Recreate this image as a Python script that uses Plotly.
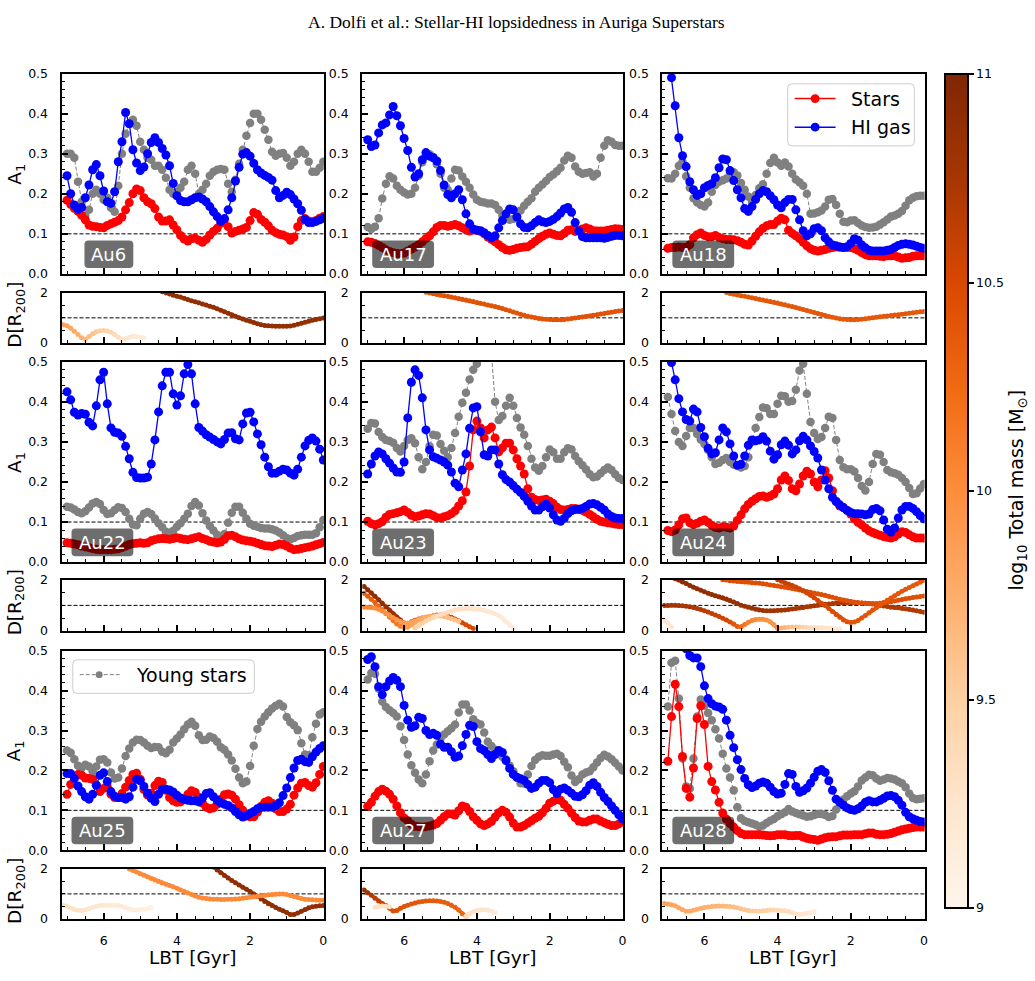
import plotly.graph_objects as go

W, H = 1035, 981

# ---------------- data ----------------
LBT = [7.0, 6.9, 6.8, 6.7, 6.6, 6.5, 6.4, 6.3, 6.2, 6.1, 6.0, 5.9, 5.8, 5.7, 5.6, 5.5, 5.4, 5.3, 5.2, 5.1,
       5.0, 4.9, 4.8, 4.7, 4.6, 4.5, 4.4, 4.3, 4.2, 4.1, 4.0, 3.9, 3.8, 3.7, 3.6, 3.5, 3.4, 3.3, 3.2, 3.1,
       3.0, 2.9, 2.8, 2.7, 2.6, 2.5, 2.4, 2.3, 2.2, 2.1, 2.0, 1.9, 1.8, 1.7, 1.6, 1.5, 1.4, 1.3, 1.2, 1.1,
       1.0, 0.9, 0.8, 0.7, 0.6, 0.5, 0.4, 0.3, 0.2, 0.1, 0.0]

au6_stars = [0.184, 0.174, 0.164, 0.156, 0.146, 0.135, 0.122, 0.119, 0.118, 0.116,
             0.115, 0.121, 0.125, 0.129, 0.133, 0.142, 0.16, 0.178, 0.2, 0.212,
             0.208, 0.19, 0.18, 0.175, 0.163, 0.142, 0.132, 0.132, 0.135, 0.122,
             0.11, 0.096, 0.087, 0.082, 0.088, 0.089, 0.084, 0.079, 0.086, 0.097,
             0.106, 0.114, 0.126, 0.135, 0.118, 0.102, 0.106, 0.109, 0.112, 0.116,
             0.133, 0.153, 0.149, 0.136, 0.129, 0.12, 0.109, 0.103, 0.099, 0.097,
             0.093, 0.084, 0.092, 0.118, 0.133, 0.138, 0.132, 0.13, 0.133, 0.139,
             0.143]
au6_hi = [0.245, 0.2, 0.172, 0.161, 0.166, 0.19, 0.222, 0.26, 0.273, 0.245,
          0.207, 0.18, 0.176, 0.205, 0.28, 0.33, 0.403, 0.375, 0.31, 0.277,
          0.258, 0.267, 0.3, 0.328, 0.34, 0.328, 0.313, 0.297, 0.27, 0.226,
          0.195, 0.183, 0.18, 0.18, 0.185, 0.19, 0.192, 0.187, 0.18, 0.168,
          0.155, 0.143, 0.131, 0.138, 0.16, 0.19, 0.232, 0.266, 0.299, 0.303,
          0.294, 0.276, 0.26, 0.252, 0.246, 0.241, 0.234, 0.208, 0.19, 0.196,
          0.204, 0.198, 0.187, 0.175, 0.159, 0.136, 0.128, 0.128, 0.131, 0.135,
          0.139]
au6_young = [0.3, 0.3, 0.29, 0.23, 0.18, 0.145, 0.16, 0.2, 0.21, 0.2,
             0.185, 0.19, 0.165, 0.155, 0.22, 0.3, 0.35, 0.375, 0.385, 0.37,
             0.33, 0.31, 0.29, 0.285, 0.27, 0.27, 0.26, 0.24, 0.21, 0.2,
             0.205, 0.215, 0.23, 0.26, 0.27, 0.25, 0.2, 0.21, 0.225, 0.245,
             0.255, 0.26, 0.262, 0.26, 0.225, 0.205, 0.235, 0.275, 0.31, 0.345,
             0.377, 0.4, 0.4, 0.385, 0.36, 0.335, 0.305, 0.295, 0.3, 0.302,
             0.29, 0.27, 0.28, 0.3, 0.31, 0.3, 0.28, 0.255, 0.255, 0.265,
             0.28]

au17_stars = [0.08, 0.079, 0.076, 0.071, 0.066, 0.06, 0.056, 0.053, 0.051, 0.05,
              0.052, 0.057, 0.062, 0.067, 0.073, 0.08, 0.088, 0.095, 0.105, 0.116,
              0.121, 0.121, 0.119, 0.121, 0.123, 0.12, 0.115, 0.11, 0.107, 0.11,
              0.109, 0.106, 0.1, 0.092, 0.086, 0.08, 0.073, 0.066, 0.06, 0.059,
              0.061, 0.064, 0.066, 0.067, 0.068, 0.074, 0.081, 0.088, 0.094, 0.099,
              0.102, 0.099, 0.096, 0.095, 0.101, 0.109, 0.11, 0.106, 0.109, 0.112,
              0.115, 0.112, 0.108, 0.107, 0.107, 0.107, 0.109, 0.111, 0.113, 0.112,
              0.111]
au17_hi = [0.335, 0.318, 0.322, 0.352, 0.372, 0.377, 0.397, 0.418, 0.395, 0.37,
           0.338, 0.308, 0.266, 0.242, 0.25, 0.285, 0.303, 0.294, 0.29, 0.282,
           0.258, 0.222, 0.198, 0.19, 0.2, 0.21, 0.185, 0.15, 0.125, 0.112,
           0.109, 0.108, 0.103, 0.096, 0.09, 0.095, 0.115, 0.133, 0.15, 0.162,
           0.16, 0.142, 0.125, 0.116, 0.115, 0.12, 0.128, 0.135, 0.13, 0.128,
           0.131, 0.136, 0.143, 0.152, 0.162, 0.166, 0.154, 0.128, 0.107, 0.093,
           0.09, 0.09, 0.09, 0.09, 0.09, 0.089, 0.091, 0.094, 0.096, 0.096,
           0.095]
au17_young = [0.117, 0.112, 0.118, 0.139, 0.188, 0.225, 0.244, 0.238, 0.22, 0.21,
              0.203, 0.198, 0.2, 0.215, 0.245, 0.279, 0.295, 0.299, 0.292, 0.274,
              0.25, 0.215, 0.21, 0.238, 0.26, 0.258, 0.243, 0.23, 0.215, 0.198,
              0.185, 0.18, 0.178, 0.176, 0.176, 0.172, 0.16, 0.146, 0.138, 0.135,
              0.137, 0.14, 0.158, 0.17, 0.18, 0.189, 0.205, 0.215, 0.223, 0.232,
              0.242, 0.248, 0.256, 0.265, 0.283, 0.295, 0.29, 0.268, 0.255, 0.25,
              0.252, 0.254, 0.243, 0.25, 0.29, 0.32, 0.334, 0.33, 0.322, 0.32,
              0.32]

au18_stars = [0.064, 0.066, 0.066, 0.067, 0.066, 0.066, 0.073, 0.09, 0.098, 0.102,
              0.096, 0.093, 0.093, 0.096, 0.091, 0.088, 0.086, 0.086, 0.085, 0.083,
              0.079, 0.074, 0.072, 0.082, 0.094, 0.105, 0.114, 0.12, 0.123, 0.123,
              0.132, 0.139, 0.135, 0.109, 0.101, 0.095, 0.088, 0.079, 0.07, 0.063,
              0.059, 0.057, 0.059, 0.061, 0.064, 0.066, 0.067, 0.067, 0.066, 0.066,
              0.066, 0.063, 0.059, 0.053, 0.048, 0.045, 0.045, 0.045, 0.044, 0.043,
              0.045, 0.045, 0.045, 0.042, 0.039, 0.04, 0.041, 0.044, 0.045, 0.045,
              0.045]
au18_hi = [0.56, 0.49, 0.42, 0.34, 0.295, 0.268, 0.23, 0.21, 0.196, 0.2,
           0.215, 0.221, 0.225, 0.24, 0.265, 0.287, 0.285, 0.258, 0.233, 0.21,
           0.19, 0.163, 0.156, 0.168, 0.186, 0.2, 0.208, 0.205, 0.195, 0.185,
           0.172, 0.165, 0.178, 0.186, 0.186, 0.16, 0.135, 0.108, 0.095, 0.1,
           0.113, 0.115, 0.108, 0.09, 0.08, 0.072, 0.07, 0.067, 0.066, 0.068,
           0.076, 0.088, 0.084, 0.072, 0.065, 0.059, 0.057, 0.057, 0.057, 0.057,
           0.059, 0.061, 0.066, 0.071, 0.074, 0.075, 0.074, 0.072, 0.069, 0.066,
           0.064]
au18_young = [0.239, 0.238, 0.25, 0.27, 0.28, 0.244, 0.215, 0.189, 0.178, 0.172,
              0.168, 0.178, 0.205, 0.222, 0.23, 0.234, 0.238, 0.25, 0.254, 0.246,
              0.227, 0.21, 0.193, 0.181, 0.197, 0.214, 0.224, 0.25, 0.277, 0.29,
              0.278, 0.27, 0.278, 0.268, 0.25, 0.236, 0.229, 0.22, 0.2, 0.15,
              0.151, 0.154, 0.158, 0.168, 0.185, 0.187, 0.172, 0.15, 0.13, 0.129,
              0.133, 0.134, 0.127, 0.121, 0.117, 0.115, 0.116, 0.118, 0.123, 0.129,
              0.136, 0.143, 0.146, 0.15, 0.157, 0.17, 0.184, 0.19, 0.194, 0.195,
              0.195]

au22_stars = [0.048, 0.047, 0.045, 0.043, 0.04, 0.038, 0.036, 0.034, 0.032, 0.031,
              0.031, 0.031, 0.031, 0.032, 0.033, 0.036, 0.04, 0.044, 0.046, 0.047,
              0.048, 0.047, 0.048, 0.053, 0.056, 0.058, 0.059, 0.058, 0.057, 0.059,
              0.061, 0.059, 0.057, 0.056, 0.058, 0.061, 0.063, 0.059, 0.056, 0.052,
              0.05, 0.048, 0.05, 0.057, 0.066, 0.067, 0.063, 0.058, 0.055, 0.053,
              0.052, 0.05, 0.047, 0.044, 0.041, 0.04, 0.039, 0.042, 0.045, 0.044,
              0.04, 0.035, 0.031, 0.032, 0.034, 0.036, 0.038, 0.04, 0.043, 0.046,
              0.049]
au22_hi = [0.425, 0.405, 0.374, 0.367, 0.371, 0.369, 0.349, 0.34, 0.39, 0.455,
           0.474, 0.395, 0.335, 0.324, 0.322, 0.314, 0.289, 0.258, 0.224, 0.211,
           0.21, 0.21, 0.212, 0.245, 0.305, 0.375, 0.44, 0.474, 0.474, 0.42,
           0.392, 0.415, 0.47, 0.493, 0.47, 0.395, 0.336, 0.327, 0.318, 0.312,
           0.306, 0.3, 0.295, 0.306, 0.322, 0.323, 0.308, 0.305, 0.345, 0.372,
           0.374, 0.35, 0.32, 0.293, 0.262, 0.238, 0.222, 0.222, 0.227, 0.232,
           0.23, 0.222, 0.217, 0.232, 0.262, 0.29, 0.304, 0.31, 0.302, 0.282,
           0.255]
au22_young = [0.138, 0.136, 0.131, 0.125, 0.122, 0.127, 0.136, 0.146, 0.15, 0.145,
              0.13, 0.12, 0.122, 0.13, 0.137, 0.135, 0.125, 0.108, 0.094, 0.092,
              0.108, 0.121, 0.125, 0.12, 0.109, 0.097, 0.087, 0.076, 0.073, 0.078,
              0.088, 0.097, 0.108, 0.121, 0.14, 0.15, 0.141, 0.122, 0.104, 0.09,
              0.079, 0.068, 0.06, 0.07, 0.098, 0.123, 0.138, 0.138, 0.123, 0.108,
              0.096, 0.091, 0.088, 0.085, 0.084, 0.084, 0.082, 0.079, 0.074, 0.067,
              0.06, 0.057, 0.06, 0.065, 0.067, 0.068, 0.068, 0.068, 0.072, 0.087,
              0.105]

au23_stars = [0.102, 0.096, 0.093, 0.096, 0.101, 0.112, 0.119, 0.121, 0.123, 0.126,
              0.13, 0.124, 0.117, 0.113, 0.115, 0.118, 0.121, 0.12, 0.116, 0.111,
              0.11, 0.113, 0.116, 0.121, 0.128, 0.14, 0.153, 0.175, 0.24, 0.33,
              0.352, 0.335, 0.31, 0.33, 0.337, 0.31, 0.275, 0.285, 0.297, 0.297,
              0.28, 0.258, 0.24, 0.22, 0.183, 0.162, 0.156, 0.154, 0.155, 0.157,
              0.152, 0.146, 0.137, 0.131, 0.13, 0.131, 0.134, 0.134, 0.132, 0.129,
              0.125, 0.119, 0.113, 0.107, 0.102, 0.1, 0.098, 0.097, 0.095, 0.094,
              0.094]
au23_hi = [0.22, 0.245, 0.265, 0.275, 0.27, 0.258, 0.247, 0.235, 0.225, 0.224,
           0.25, 0.36, 0.449, 0.48, 0.466, 0.41, 0.33, 0.28, 0.263, 0.259,
           0.255, 0.25, 0.242, 0.225, 0.197, 0.188, 0.23, 0.27, 0.334, 0.385,
           0.388, 0.325, 0.268, 0.265, 0.28, 0.28, 0.245, 0.218, 0.206, 0.2,
           0.191, 0.182, 0.174, 0.164, 0.152, 0.14, 0.13, 0.13, 0.138, 0.145,
           0.135, 0.118, 0.105, 0.102, 0.109, 0.121, 0.128, 0.131, 0.132, 0.134,
           0.139, 0.145, 0.146, 0.143, 0.137, 0.13, 0.12, 0.114, 0.11, 0.109,
           0.109]
au23_young = [0.333, 0.347, 0.346, 0.325, 0.312, 0.305, 0.302, 0.298, 0.285, 0.276,
              0.29, 0.305, 0.309, 0.297, 0.262, 0.232, 0.25, 0.289, 0.318, 0.316,
              0.295, 0.278, 0.262, 0.285, 0.322, 0.363, 0.398, 0.423, 0.456, 0.48,
              0.495, 0.55, 0.6, 0.58, 0.52, 0.4, 0.355, 0.365, 0.39, 0.41,
              0.39, 0.36, 0.336, 0.318, 0.29, 0.258, 0.236, 0.228, 0.24, 0.262,
              0.281, 0.274, 0.258, 0.258, 0.274, 0.284, 0.281, 0.265, 0.252, 0.242,
              0.231, 0.219, 0.212, 0.214, 0.222, 0.23, 0.236, 0.23, 0.219, 0.21,
              0.205]

au24_stars = [0.079, 0.076, 0.08, 0.093, 0.108, 0.11, 0.098, 0.094, 0.097, 0.102,
              0.105, 0.099, 0.092, 0.087, 0.085, 0.088, 0.087, 0.085, 0.09, 0.104,
              0.118, 0.133, 0.144, 0.152, 0.158, 0.164, 0.165, 0.162, 0.165, 0.17,
              0.183, 0.205, 0.215, 0.204, 0.183, 0.178, 0.195, 0.215, 0.227, 0.22,
              0.2, 0.188, 0.205, 0.228, 0.21, 0.178, 0.152, 0.14, 0.136, 0.129,
              0.12, 0.108, 0.099, 0.093, 0.085, 0.078, 0.074, 0.07, 0.067, 0.064,
              0.062, 0.06, 0.063, 0.07, 0.076, 0.074, 0.068, 0.063, 0.06, 0.06,
              0.06]
au24_hi = [0.53, 0.498, 0.455, 0.408, 0.375, 0.356, 0.352, 0.382, 0.375, 0.336,
           0.313, 0.284, 0.27, 0.273, 0.305, 0.335, 0.325, 0.295, 0.265, 0.242,
           0.244, 0.265, 0.292, 0.305, 0.303, 0.305, 0.313, 0.302, 0.277, 0.257,
           0.268, 0.293, 0.302, 0.292, 0.27, 0.28, 0.303, 0.314, 0.305, 0.29,
           0.276, 0.26, 0.23, 0.205, 0.183, 0.162, 0.151, 0.143, 0.136, 0.129,
           0.124, 0.121, 0.121, 0.12, 0.118, 0.12, 0.131, 0.134, 0.128, 0.105,
           0.082, 0.075, 0.085, 0.11, 0.13, 0.139, 0.139, 0.134, 0.126, 0.116,
           0.108]
au24_young = [0.412, 0.37, 0.327, 0.3, 0.29, 0.315, 0.335, 0.335, 0.32, 0.306,
              0.295, 0.28, 0.262, 0.245, 0.248, 0.255, 0.26, 0.25, 0.243, 0.24,
              0.236, 0.24, 0.262, 0.3, 0.335, 0.362, 0.386, 0.384, 0.37, 0.37,
              0.395, 0.415, 0.414, 0.4, 0.402, 0.43, 0.478, 0.495, 0.42, 0.35,
              0.322, 0.307, 0.312, 0.335, 0.363, 0.36, 0.305, 0.255, 0.237, 0.232,
              0.232, 0.226, 0.21, 0.19, 0.179, 0.2, 0.245, 0.27, 0.268, 0.25,
              0.23, 0.224, 0.222, 0.218, 0.21, 0.2, 0.185, 0.17, 0.172, 0.184,
              0.195]

au25_stars = [0.14, 0.165, 0.183, 0.19, 0.188, 0.181, 0.18, 0.178, 0.163, 0.147,
              0.155, 0.16, 0.14, 0.132, 0.132, 0.142, 0.158, 0.175, 0.19, 0.193,
              0.178, 0.152, 0.138, 0.143, 0.162, 0.173, 0.17, 0.15, 0.132, 0.124,
              0.12, 0.121, 0.127, 0.14, 0.149, 0.145, 0.132, 0.118, 0.108, 0.104,
              0.106, 0.115, 0.128, 0.139, 0.141, 0.138, 0.128, 0.114, 0.1, 0.09,
              0.084, 0.084, 0.095, 0.11, 0.12, 0.124, 0.118, 0.104, 0.097, 0.097,
              0.103, 0.115, 0.138, 0.156, 0.168, 0.17, 0.162, 0.158, 0.169, 0.19,
              0.21]
au25_hi = [0.192, 0.192, 0.18, 0.161, 0.147, 0.134, 0.128, 0.14, 0.163, 0.188,
           0.194, 0.172, 0.147, 0.135, 0.132, 0.132, 0.128, 0.134, 0.158, 0.178,
           0.174, 0.16, 0.143, 0.13, 0.122, 0.14, 0.153, 0.153, 0.151, 0.146,
           0.138, 0.131, 0.128, 0.125, 0.124, 0.124, 0.121, 0.131, 0.142, 0.144,
           0.134, 0.125, 0.119, 0.115, 0.112, 0.106, 0.097, 0.089, 0.083, 0.086,
           0.092, 0.097, 0.104, 0.107, 0.108, 0.108, 0.108, 0.112, 0.119, 0.137,
           0.156, 0.182, 0.206, 0.225, 0.228, 0.222, 0.22, 0.234, 0.246, 0.255,
           0.262]
au25_young = [0.25, 0.244, 0.228, 0.212, 0.206, 0.214, 0.21, 0.198, 0.21, 0.227,
              0.228, 0.22, 0.195, 0.18, 0.182, 0.205, 0.236, 0.255, 0.27, 0.277,
              0.276, 0.27, 0.262, 0.256, 0.259, 0.258, 0.247, 0.243, 0.252, 0.27,
              0.28, 0.29, 0.303, 0.315, 0.322, 0.312, 0.288, 0.276, 0.277, 0.285,
              0.281, 0.272, 0.258, 0.252, 0.24, 0.225, 0.204, 0.182, 0.168, 0.172,
              0.211, 0.262, 0.304, 0.322, 0.335, 0.346, 0.355, 0.362, 0.367, 0.36,
              0.334, 0.321, 0.313, 0.301, 0.268, 0.24, 0.238, 0.283, 0.317, 0.34,
              0.346]

au27_stars = [0.11, 0.12, 0.135, 0.147, 0.153, 0.148, 0.14, 0.128, 0.111, 0.094,
              0.081, 0.074, 0.065, 0.06, 0.059, 0.058, 0.059, 0.061, 0.063, 0.067,
              0.075, 0.084, 0.091, 0.091, 0.088, 0.099, 0.111, 0.108, 0.097, 0.084,
              0.075, 0.066, 0.062, 0.066, 0.072, 0.083, 0.094, 0.1, 0.095, 0.083,
              0.068, 0.058, 0.058, 0.062, 0.068, 0.074, 0.08, 0.085, 0.094, 0.105,
              0.118, 0.123, 0.127, 0.125, 0.115, 0.105, 0.093, 0.082, 0.073, 0.071,
              0.071, 0.075, 0.078, 0.078, 0.073, 0.069, 0.065, 0.062, 0.062, 0.066,
              0.071]
au27_hi = [0.478, 0.485, 0.46, 0.41, 0.39, 0.41, 0.424, 0.433, 0.426, 0.41,
           0.363, 0.326, 0.308, 0.312, 0.333, 0.33, 0.3, 0.29, 0.293, 0.288,
           0.266, 0.258, 0.258, 0.247, 0.233, 0.236, 0.262, 0.29, 0.313, 0.31,
           0.272, 0.255, 0.25, 0.24, 0.23, 0.24, 0.25, 0.245, 0.225, 0.205,
           0.19, 0.183, 0.179, 0.175, 0.165, 0.155, 0.158, 0.168, 0.175, 0.175,
           0.169, 0.152, 0.142, 0.153, 0.156, 0.15, 0.143, 0.135, 0.134, 0.139,
           0.149, 0.163, 0.169, 0.16, 0.145, 0.132, 0.122, 0.111, 0.1, 0.089,
           0.079]
au27_young = [0.428, 0.444, 0.442, 0.405, 0.373, 0.359, 0.351, 0.344, 0.335, 0.311,
              0.276, 0.24, 0.213, 0.194, 0.177, 0.168, 0.19, 0.223, 0.25, 0.265,
              0.28, 0.29, 0.298, 0.306, 0.315, 0.345, 0.365, 0.365, 0.35, 0.328,
              0.319, 0.315, 0.295, 0.272, 0.261, 0.252, 0.242, 0.234, 0.228, 0.212,
              0.198, 0.182, 0.168, 0.167, 0.19, 0.211, 0.226, 0.234, 0.238, 0.237,
              0.237, 0.24, 0.242, 0.236, 0.222, 0.208, 0.187, 0.171, 0.178, 0.19,
              0.195, 0.198, 0.208, 0.22, 0.231, 0.239, 0.235, 0.228, 0.219, 0.21,
              0.2]

au28_stars = [0.223, 0.335, 0.416, 0.36, 0.235, 0.155, 0.133, 0.206, 0.33, 0.362,
              0.315, 0.21, 0.172, 0.151, 0.12, 0.093, 0.078, 0.067, 0.058, 0.049,
              0.042, 0.039, 0.039, 0.039, 0.039, 0.039, 0.038, 0.037, 0.036, 0.037,
              0.039, 0.039, 0.039, 0.037, 0.036, 0.037, 0.037, 0.033, 0.03, 0.028,
              0.027, 0.025, 0.028, 0.031, 0.033, 0.034, 0.034, 0.036, 0.038, 0.038,
              0.038, 0.039, 0.039, 0.039, 0.041, 0.043, 0.043, 0.04, 0.039, 0.039,
              0.04, 0.042, 0.045, 0.048, 0.051, 0.053, 0.055, 0.057, 0.058, 0.058,
              0.058]
au28_hi = [None, None, None, None, 0.53, 0.505, 0.488, 0.482, 0.482, 0.46,
           0.412, 0.38, 0.367, 0.361, 0.359, 0.353, 0.326, 0.288, 0.257, 0.227,
           0.202, 0.18, 0.164, 0.157, 0.161, 0.168, 0.171, 0.168, 0.158, 0.147,
           0.141, 0.143, 0.165, 0.192, 0.19, 0.16, 0.145, 0.149, 0.156, 0.168,
           0.183, 0.198, 0.202, 0.195, 0.174, 0.15, 0.128, 0.12, 0.113, 0.106,
           0.102, 0.1, 0.104, 0.111, 0.12, 0.124, 0.121, 0.121, 0.125, 0.13,
           0.136, 0.137, 0.134, 0.125, 0.113, 0.095, 0.084, 0.079, 0.075, 0.072,
           0.071]
au28_young = [0.36, 0.47, 0.475, 0.38, 0.23, 0.16, 0.155, 0.23, 0.335, 0.378,
              0.362, 0.344, 0.326, 0.303, 0.28, 0.242, 0.205, 0.182, 0.15, 0.108,
              0.08, 0.073, 0.07, 0.067, 0.064, 0.059, 0.062, 0.068, 0.074, 0.078,
              0.085, 0.09, 0.095, 0.103, 0.097, 0.093, 0.09, 0.087, 0.084, 0.085,
              0.088, 0.091, 0.091, 0.088, 0.083, 0.086, 0.102, 0.12, 0.127, 0.135,
              0.142, 0.148, 0.16, 0.175, 0.182, 0.189, 0.188, 0.18, 0.174, 0.177,
              0.181, 0.18, 0.177, 0.172, 0.168, 0.158, 0.142, 0.131, 0.128, 0.129,
              0.13]

# ---- satellite distances D [R200] and log10 total masses ----
au6_s1_d = [2.05, 2.0, 1.96, 1.91, 1.87, 1.83, 1.78, 1.73, 1.68, 1.64,
            1.6, 1.55, 1.51, 1.46, 1.42, 1.36, 1.3, 1.24, 1.18, 1.12,
            1.06, 1.0, 0.95, 0.9, 0.86, 0.81, 0.76, 0.72, 0.69, 0.68,
            0.67, 0.66, 0.66, 0.66, 0.66, 0.67, 0.7, 0.74, 0.78, 0.82,
            0.86, 0.9, 0.93, 0.96, 0.99]
au6_s1_m = 10.87
au6_s2_d = [0.72, 0.68, 0.58, 0.46, 0.33, 0.2, 0.14, 0.25, 0.36, 0.44,
            0.48, 0.49, 0.47, 0.42, 0.33, 0.22, 0.14, 0.16, 0.22, 0.26,
            0.25, 0.22, 0.2]
au6_s2_m = [9.85, 9.83, 9.8, 9.78, 9.75, 9.72, 9.68, 9.64, 9.6, 9.56,
            9.52, 9.48, 9.45, 9.42, 9.38, 9.34, 9.3, 9.27, 9.24, 9.21,
            9.18, 9.16, 9.14]

au17_s1_d = [2.03, 2.0, 1.97, 1.94, 1.91, 1.89, 1.86, 1.83, 1.8, 1.77,
             1.74, 1.71, 1.68, 1.65, 1.61, 1.58, 1.55, 1.51, 1.48, 1.45,
             1.41, 1.37, 1.32, 1.28, 1.23, 1.19, 1.14, 1.1, 1.06, 1.03,
             1.0, 0.97, 0.95, 0.94, 0.93, 0.92, 0.92, 0.92, 0.93, 0.95,
             0.97, 0.99, 1.01, 1.03, 1.05, 1.07, 1.1, 1.12, 1.15, 1.17,
             1.2, 1.22, 1.25, 1.27, 1.29]
au17_s1_m = 10.42

au18_s1_d = [2.02, 1.98, 1.95, 1.92, 1.89, 1.86, 1.83, 1.8, 1.77, 1.74,
             1.71, 1.68, 1.65, 1.62, 1.59, 1.55, 1.52, 1.48, 1.45, 1.41,
             1.37, 1.33, 1.29, 1.25, 1.21, 1.17, 1.13, 1.09, 1.05, 1.02,
             0.99, 0.96, 0.94, 0.93, 0.92, 0.92, 0.93, 0.94, 0.96, 0.98,
             1.0, 1.02, 1.04, 1.06, 1.07, 1.09, 1.11, 1.12, 1.14, 1.16,
             1.18, 1.2, 1.22, 1.24, 1.25]
au18_s1_m = 10.38

au23_s1_d = [1.75, 1.62, 1.49, 1.36, 1.22, 1.08, 0.94, 0.81, 0.67, 0.54,
             0.42, 0.3, 0.28, 0.35, 0.41, 0.46, 0.5, 0.53, 0.56, 0.59,
             0.62, 0.63, 0.62, 0.58, 0.53, 0.46, 0.39, 0.31, 0.23, 0.15,
             0.08]
au23_s1_m = [10.92, 10.92, 10.9, 10.9, 10.88, 10.88, 10.86, 10.85, 10.84, 10.82,
             10.8, 10.75, 10.65, 10.6, 10.58, 10.56, 10.55, 10.55, 10.54, 10.54,
             10.53, 10.53, 10.52, 10.52, 10.51, 10.5, 10.5, 10.5, 10.49, 10.48,
             10.48]
au23_s2_d = [1.48, 1.36, 1.24, 1.11, 0.97, 0.83, 0.68, 0.54, 0.4, 0.26,
             0.17, 0.12, 0.13, 0.22, 0.33, 0.44, 0.5, 0.54, 0.57, 0.59,
             0.59, 0.58, 0.56, 0.52, 0.47, 0.42, 0.37]
au23_s2_m = [10.35, 10.35, 10.33, 10.32, 10.3, 10.28, 10.26, 10.24, 10.2, 10.15,
             10.1, 10.0, 9.9, 9.85, 9.82, 9.8, 9.78, 9.76, 9.74, 9.72,
             9.7, 9.68, 9.66, 9.64, 9.62, 9.6, 9.58]
au23_s3_d = [0.93, 0.93, 0.92, 0.9, 0.85, 0.78, 0.69, 0.6, 0.51, 0.43,
             0.36, 0.31, 0.3, 0.33, 0.38, 0.42, 0.44]
au23_s3_m = [10.05, 10.05, 10.04, 10.03, 10.02, 10.0, 9.98, 9.96, 9.94, 9.92,
             9.9, 9.88, 9.86, 9.84, 9.82, 9.8, 9.78]
au23_s4_d = [0.1, 0.18, 0.28, 0.38, 0.45, 0.52, 0.58, 0.63, 0.68, 0.73,
             0.78, 0.82, 0.85, 0.87, 0.88, 0.88, 0.87, 0.86, 0.84, 0.81,
             0.77, 0.73, 0.67, 0.6, 0.5, 0.36, 0.22, 0.1]
au23_s4_m = [9.5, 9.48, 9.46, 9.44, 9.42, 9.4, 9.38, 9.36, 9.35, 9.34,
             9.33, 9.32, 9.31, 9.3, 9.29, 9.28, 9.27, 9.26, 9.25, 9.24,
             9.23, 9.22, 9.21, 9.2, 9.19, 9.18, 9.17, 9.16]

au24_s1_d = [2.05, 2.0, 1.93, 1.87, 1.79, 1.72, 1.66, 1.6, 1.54, 1.48,
             1.43, 1.38, 1.34, 1.3, 1.25, 1.19, 1.13, 1.07, 1.01, 0.97,
             0.93, 0.89, 0.85, 0.82, 0.8, 0.79, 0.79, 0.79, 0.8, 0.81,
             0.82, 0.84, 0.86, 0.88, 0.9, 0.92, 0.95, 0.97, 0.99, 1.01,
             1.02, 1.04, 1.05, 1.07, 1.08, 1.09, 1.1, 1.1, 1.1, 1.1,
             1.1, 1.09, 1.08, 1.07, 1.05, 1.03, 1.0, 0.98, 0.96, 0.93,
             0.92, 0.91, 0.89, 0.87, 0.85, 0.82, 0.79, 0.76, 0.73]
au24_s1_m = [10.92, 10.92, 10.91, 10.91, 10.9, 10.9, 10.89, 10.89, 10.88, 10.88,
             10.87, 10.87, 10.86, 10.86, 10.85, 10.85, 10.84, 10.84, 10.83, 10.83,
             10.82, 10.82, 10.81, 10.81, 10.8, 10.8, 10.79, 10.79, 10.78, 10.78,
             10.77, 10.77, 10.76, 10.76, 10.75, 10.75, 10.74, 10.74, 10.74, 10.73,
             10.73, 10.73, 10.72, 10.72, 10.72, 10.72, 10.71, 10.71, 10.71, 10.71,
             10.7, 10.7, 10.7, 10.7, 10.7, 10.7, 10.7, 10.7, 10.7, 10.7,
             10.7, 10.7, 10.7, 10.7, 10.7, 10.7, 10.7, 10.7, 10.7]
au24_s2_d = [1.0, 1.0, 1.01, 1.01, 1.0, 0.99, 0.97, 0.95, 0.92, 0.88,
             0.84, 0.79, 0.74, 0.68, 0.62, 0.56, 0.49, 0.42, 0.34, 0.26,
             0.16, 0.15, 0.24, 0.33, 0.4, 0.44, 0.45, 0.45, 0.42, 0.35,
             0.23, 0.08]
au24_s2_m = [10.78, 10.78, 10.77, 10.77, 10.76, 10.75, 10.74, 10.73, 10.72, 10.7,
             10.68, 10.66, 10.64, 10.62, 10.6, 10.58, 10.55, 10.52, 10.48, 10.42,
             10.35, 10.25, 10.15, 10.1, 10.05, 10.02, 10.0, 9.98, 9.96, 9.94,
             9.92, 9.9]
au24_s3_d = [2.01, 2.0, 1.98, 1.97, 1.95, 1.94, 1.93, 1.92, 1.9, 1.89,
             1.88, 1.86, 1.84, 1.81, 1.79, 1.77, 1.74, 1.72, 1.69, 1.67,
             1.64, 1.61, 1.58, 1.55, 1.52, 1.49, 1.46, 1.43, 1.4, 1.36,
             1.32, 1.28, 1.24, 1.21, 1.18, 1.15, 1.12, 1.1, 1.09, 1.08,
             1.07, 1.07, 1.07, 1.08, 1.1, 1.12, 1.14, 1.17, 1.2, 1.23,
             1.26, 1.28, 1.31, 1.33, 1.35, 1.37]
au24_s3_m = 10.45
au24_s4_d = [2.01, 1.96, 1.9, 1.85, 1.79, 1.73, 1.66, 1.58, 1.49, 1.4,
             1.3, 1.19, 1.08, 1.0, 0.88, 0.76, 0.64, 0.53, 0.42, 0.35,
             0.32, 0.34, 0.4, 0.5, 0.6, 0.71, 0.82, 0.92, 1.02, 1.11,
             1.2, 1.29, 1.38, 1.47, 1.56, 1.64, 1.71, 1.78, 1.85, 1.92,
             1.99]
au24_s4_m = [10.62, 10.61, 10.6, 10.59, 10.58, 10.57, 10.56, 10.55, 10.54, 10.53,
             10.52, 10.51, 10.5, 10.49, 10.48, 10.47, 10.46, 10.45, 10.44, 10.43,
             10.42, 10.42, 10.41, 10.41, 10.4, 10.4, 10.4, 10.4, 10.39, 10.39,
             10.39, 10.39, 10.38, 10.38, 10.38, 10.38, 10.37, 10.37, 10.37, 10.37,
             10.36]
au24_s5_d = [0.43, 0.3, 0.14]
au24_s5_m = 9.25
au24_s6_d = [0.1, 0.12, 0.13, 0.14, 0.14, 0.14, 0.13, 0.12, 0.11, 0.11,
             0.11, 0.11, 0.1, 0.09, 0.08, 0.07, 0.06]
au24_s6_m = [9.75, 9.7, 9.65, 9.6, 9.56, 9.52, 9.48, 9.44, 9.4, 9.37,
             9.34, 9.31, 9.28, 9.26, 9.24, 9.22, 9.2]

au25_s1_d = [2.08, 1.96, 1.85, 1.74, 1.64, 1.54, 1.45, 1.36, 1.27, 1.19,
             1.1, 1.0, 0.9, 0.8, 0.7, 0.61, 0.53, 0.45, 0.38, 0.32,
             0.25, 0.17, 0.17, 0.23, 0.3, 0.37, 0.44, 0.48, 0.5, 0.52,
             0.53]
au25_s1_m = 10.88
au25_s2_d = [2.0, 1.94, 1.88, 1.81, 1.75, 1.68, 1.62, 1.56, 1.5, 1.44,
             1.39, 1.34, 1.29, 1.23, 1.16, 1.1, 1.04, 0.98, 0.92, 0.87,
             0.84, 0.82, 0.8, 0.79, 0.79, 0.78, 0.78, 0.79, 0.79, 0.8,
             0.81, 0.83, 0.85, 0.87, 0.89, 0.91, 0.93, 0.95, 0.97, 0.98,
             0.99, 1.0, 1.0, 0.98, 0.94, 0.9, 0.86, 0.82, 0.79, 0.78,
             0.77, 0.76, 0.75, 0.75]
au25_s2_m = 10.02
au25_s3_d = [0.55, 0.5, 0.43, 0.37, 0.34, 0.33, 0.36, 0.41, 0.46, 0.5,
             0.53, 0.55, 0.55, 0.55, 0.55, 0.53, 0.49, 0.44, 0.39, 0.36,
             0.35, 0.36, 0.38, 0.41, 0.45]
au25_s3_m = [9.32, 9.31, 9.3, 9.3, 9.29, 9.28, 9.27, 9.26, 9.25, 9.24,
             9.23, 9.22, 9.21, 9.2, 9.19, 9.18, 9.17, 9.16, 9.15, 9.14,
             9.13, 9.12, 9.11, 9.1, 9.1]

au27_s1_d = [1.16, 1.05, 0.95, 0.83, 0.72, 0.62, 0.53, 0.42, 0.31, 0.33,
             0.42, 0.49, 0.55, 0.6, 0.64, 0.68, 0.7, 0.72, 0.73, 0.73,
             0.72, 0.7, 0.67, 0.62, 0.55, 0.46, 0.35, 0.2, 0.1]
au27_s1_m = [10.85, 10.8, 10.72, 10.65, 10.6, 10.55, 10.5, 10.48, 10.45, 10.44,
             10.43, 10.42, 10.41, 10.4, 10.4, 10.39, 10.38, 10.38, 10.37, 10.36,
             10.35, 10.35, 10.34, 10.33, 10.32, 10.3, 10.28, 10.26, 10.25]
au27_s2_d = [0.46, 0.5, 0.51, 0.5, 0.48]
au27_s2_m = 9.3
au27_s3_d = [0.1, 0.2, 0.28, 0.33, 0.35, 0.36, 0.35, 0.31, 0.24]
au27_s3_m = [9.35, 9.33, 9.31, 9.29, 9.27, 9.25, 9.23, 9.21, 9.19]

au28_s1_d = [0.62, 0.6, 0.57, 0.52, 0.44, 0.36, 0.3, 0.3, 0.34, 0.38,
             0.42, 0.45, 0.47, 0.49, 0.5, 0.51, 0.51, 0.5, 0.49, 0.47,
             0.44, 0.4, 0.36, 0.33, 0.31, 0.3, 0.3, 0.32, 0.34, 0.35,
             0.35, 0.34, 0.33, 0.32, 0.29, 0.24, 0.19, 0.17, 0.19, 0.22,
             0.25, 0.27]
au28_s1_m = [9.85, 9.84, 9.83, 9.82, 9.81, 9.8, 9.79, 9.78, 9.77, 9.76,
             9.75, 9.74, 9.73, 9.72, 9.71, 9.7, 9.69, 9.68, 9.66, 9.64,
             9.62, 9.6, 9.58, 9.56, 9.54, 9.52, 9.5, 9.48, 9.46, 9.44,
             9.42, 9.4, 9.38, 9.36, 9.34, 9.32, 9.3, 9.27, 9.24, 9.21,
             9.18, 9.15]

Y_TICKS_A = [0.0, 0.1, 0.2, 0.3, 0.4, 0.5]
Y_TICKS_D = [0, 2]
X_TICKS = [6, 4, 2, 0]
CB_TICKS = [9, 9.5, 10, 10.5, 11]

# ---------------- helpers ----------------
T_SAT = [7.1] + LBT


def span(t0, t1):
    i0 = int(round((7.1 - t0) * 10))
    i1 = int(round((7.1 - t1) * 10))
    return T_SAT[i0:i1 + 1]


ORANGES_RGB = [(255, 245, 235), (254, 230, 206), (253, 208, 162), (253, 174, 107), (253, 141, 60),
               (241, 105, 19), (217, 72, 1), (166, 54, 3), (127, 39, 4)]
ORANGES = [[i / 8, "rgb(%d,%d,%d)" % c] for i, c in enumerate(ORANGES_RGB)]
M_MIN, M_MAX = 9.0, 11.0


def mass_color(m):
    v = (m - M_MIN) / (M_MAX - M_MIN) * 8
    v = max(0.0, min(8.0, v))
    i = min(int(v), 7)
    f = v - i
    a, b = ORANGES_RGB[i], ORANGES_RGB[i + 1]
    return "rgb(%d,%d,%d)" % tuple(int(round(a[k] + (b[k] - a[k]) * f)) for k in range(3))


PANELS = [
    ("Au6", au6_stars, au6_hi, au6_young,
     [(span(4.4, 0.0), au6_s1_d, au6_s1_m), (span(7.1, 4.9), au6_s2_d, au6_s2_m)]),
    ("Au17", au17_stars, au17_hi, au17_young, [(span(5.4, 0.0), au17_s1_d, au17_s1_m)]),
    ("Au18", au18_stars, au18_hi, au18_young, [(span(5.4, 0.0), au18_s1_d, au18_s1_m)]),
    ("Au22", au22_stars, au22_hi, au22_young, []),
    ("Au23", au23_stars, au23_hi, au23_young,
     [(span(7.1, 4.1), au23_s1_d, au23_s1_m), (span(7.1, 4.5), au23_s2_d, au23_s2_m),
      (span(7.1, 5.5), au23_s3_d, au23_s3_m), (span(5.7, 3.0), au23_s4_d, au23_s4_m)]),
    ("Au24", au24_stars, au24_hi, au24_young,
     [(span(6.8, 0.0), au24_s1_d, au24_s1_m), (span(7.1, 4.0), au24_s2_d, au24_s2_m),
      (span(5.5, 0.0), au24_s3_d, au24_s3_m), (span(4.0, 0.0), au24_s4_d, au24_s4_m),
      (span(7.1, 6.9), au24_s5_d, au24_s5_m), (span(3.9, 2.3), au24_s6_d, au24_s6_m)]),
    ("Au25", au25_stars, au25_hi, au25_young,
     [(span(3.0, 0.0), au25_s1_d, au25_s1_m), (span(5.3, 0.0), au25_s2_d, au25_s2_m),
      (span(7.1, 4.7), au25_s3_d, au25_s3_m)]),
    ("Au27", au27_stars, au27_hi, au27_young,
     [(span(7.1, 4.3), au27_s1_d, au27_s1_m), (span(6.8, 6.4), au27_s2_d, au27_s2_m),
      (span(4.3, 3.5), au27_s3_d, au27_s3_m)]),
    ("Au28", au28_stars, au28_hi, au28_young, [(span(7.1, 3.0), au28_s1_d, au28_s1_m)]),
]

# ---------------- layout geometry (pixels) ----------------
COL_X = [(61.7, 325.0), (363.3, 625.0), (664.3, 927.3)]
ROW_A = [(66.7, 270.0), (359.3, 562.7), (652.7, 855.3)]
ROW_D = [(289.3, 340.0), (581.0, 632.3), (874.3, 925.0)]


def fx(p):
    return p / W


def fy(p):
    return 1 - p / H


FONT = "DejaVu Sans"
AX = dict(showline=True, linewidth=2, linecolor="black", mirror=True, ticks="inside",
          ticklen=6, tickwidth=1.5, tickcolor="black", showgrid=False, zeroline=False,
          tickfont=dict(family=FONT, size=12.5, color="black"))

fig = go.Figure()
layout = {}
shapes = []
annotations = []


def rrect(x0, y0, x1, y1, r):
    X, Y = fx, fy
    return (f"M{X(x0 + r)},{Y(y0)} L{X(x1 - r)},{Y(y0)} Q{X(x1)},{Y(y0)} {X(x1)},{Y(y0 + r)} "
            f"L{X(x1)},{Y(y1 - r)} Q{X(x1)},{Y(y1)} {X(x1 - r)},{Y(y1)} "
            f"L{X(x0 + r)},{Y(y1)} Q{X(x0)},{Y(y1)} {X(x0)},{Y(y1 - r)} "
            f"L{X(x0)},{Y(y0 + r)} Q{X(x0)},{Y(y0)} {X(x0 + r)},{Y(y0)} Z")


cb_done = False
for k, (name, stars, hi, young, sats) in enumerate(PANELS):
    r, c = divmod(k, 3)
    x0, x1 = COL_X[c]
    for n, (y0, y1), kind in ((2 * k + 1, ROW_A[r], "A"), (2 * k + 2, ROW_D[r], "D")):
        sx = "" if n == 1 else str(n)
        xref, yref = "x" + sx, "y" + sx
        layout["xaxis" + sx] = dict(
            AX, domain=[fx(x0), fx(x1)], anchor=yref, range=[7.15, -0.02],
            tickmode="array", tickvals=X_TICKS, ticktext=[str(v) for v in X_TICKS],
            showticklabels=(kind == "D" and r == 2), ticklabelstandoff=9,
            minor=dict(ticks="inside", ticklen=3, tickwidth=1, tickcolor="black",
                       dtick=0.5, tick0=0, showgrid=False))
        if kind == "A":
            layout["yaxis" + sx] = dict(
                AX, domain=[fy(y1), fy(y0)], anchor=xref, range=[0, 0.5],
                tickmode="array", tickvals=Y_TICKS_A, ticktext=["%.1f" % v for v in Y_TICKS_A],
                ticklabelstandoff=9,
                minor=dict(ticks="inside", ticklen=3, tickwidth=1, tickcolor="black",
                           dtick=0.02, tick0=0, showgrid=False))
            shapes.append(dict(type="line", xref=xref + " domain", yref=yref, x0=0, x1=1,
                               y0=0.1, y1=0.1, layer="below",
                               line=dict(color="black", width=1, dash="4px,2px")))
            fig.add_trace(go.Scatter(
                x=LBT, y=young, xaxis=xref, yaxis=yref, mode="lines+markers",
                line=dict(color="gray", width=1, dash="4px,2px"),
                marker=dict(color="gray", size=8.5, line=dict(width=0)),
                showlegend=False, hoverinfo="skip"))
            fig.add_trace(go.Scatter(
                x=LBT, y=stars, xaxis=xref, yaxis=yref, mode="lines+markers",
                line=dict(color="red", width=1.3),
                marker=dict(color="red", size=9, line=dict(width=0)),
                showlegend=False, hoverinfo="skip"))
            fig.add_trace(go.Scatter(
                x=LBT, y=hi, xaxis=xref, yaxis=yref, mode="lines+markers",
                line=dict(color="blue", width=1.3),
                marker=dict(color="blue", size=9, line=dict(width=0)),
                showlegend=False, hoverinfo="skip"))
            # halo label box
            bw = 49 if len(name) == 3 else 62
            bx1 = x0 + 72
            bx0 = bx1 - bw
            by1 = y1 - 6
            by0 = by1 - 28
            shapes.append(dict(type="path", xref="paper", yref="paper",
                               path=rrect(bx0, by0, bx1, by1, 4),
                               fillcolor="rgba(0,0,0,0.57)", line=dict(width=0), layer="above"))
            annotations.append(dict(x=fx((bx0 + bx1) / 2), y=fy((by0 + by1) / 2), xref="paper",
                                    yref="paper", text=name, showarrow=False,
                                    xanchor="center", yanchor="middle",
                                    font=dict(family=FONT, size=18, color="white")))
        else:
            layout["yaxis" + sx] = dict(
                AX, domain=[fy(y1), fy(y0)], anchor=xref, range=[0, 2],
                tickmode="array", tickvals=Y_TICKS_D, ticktext=[str(v) for v in Y_TICKS_D],
                ticklabelstandoff=9,
                minor=dict(ticks="inside", ticklen=3, tickwidth=1, tickcolor="black",
                           dtick=0.5, tick0=0, showgrid=False))
            shapes.append(dict(type="line", xref=xref + " domain", yref=yref, x0=0, x1=1,
                               y0=1, y1=1, layer="below",
                               line=dict(color="black", width=1, dash="4px,2px")))
            for (t, d, m) in sats:
                nn = min(len(t), len(d))
                t, d = t[:nn], d[:nn]
                mm = [m] * nn if not isinstance(m, list) else m[:nn]
                mean_m = sum(mm) / len(mm)
                mk = dict(color=mm, colorscale=ORANGES, cmin=M_MIN, cmax=M_MAX, size=5,
                          line=dict(width=0))
                if not cb_done:
                    mk.update(showscale=True, colorbar=dict(
                        x=fx(948), xanchor="left", xref="paper",
                        y=fy((67 + 914) / 2), yanchor="middle", yref="paper",
                        len=(914 - 67) / H, lenmode="fraction",
                        thickness=23, thicknessmode="pixels", xpad=0, ypad=0,
                        outlinewidth=2, outlinecolor="black",
                        tickmode="array", tickvals=CB_TICKS,
                        ticktext=["9", "9.5", "10", "10.5", "11"],
                        ticks="outside", ticklen=5, tickwidth=2, tickcolor="black",
                        tickfont=dict(family=FONT, size=12.5, color="black"),
                        title=dict(text="")))
                    cb_done = True
                fig.add_trace(go.Scatter(
                    x=t, y=d, xaxis=xref, yaxis=yref, mode="lines+markers",
                    line=dict(color=mass_color(mean_m), width=3.5),
                    marker=mk, showlegend=False, hoverinfo="skip"))

# colorbar title
annotations.append(dict(x=fx(1020), y=fy(490), xref="paper", yref="paper",
                        text="log<sub>10</sub> Total mass [M<sub>⊙</sub>]", showarrow=False,
                        textangle=-90, xanchor="center", yanchor="middle",
                        font=dict(family=FONT, size=19, color="black")))

# axis labels
for r in range(3):
    ya0, ya1 = ROW_A[r]
    yd0, yd1 = ROW_D[r]
    annotations.append(dict(x=fx(16), y=fy((ya0 + ya1) / 2), xref="paper", yref="paper",
                            text="A<sub>1</sub>", showarrow=False, textangle=-90,
                            xanchor="center", yanchor="middle",
                            font=dict(family=FONT, size=18.5, color="black")))
    annotations.append(dict(x=fx(16), y=fy((yd0 + yd1) / 2 - 3), xref="paper", yref="paper",
                            text="D[R<sub>200</sub>]", showarrow=False, textangle=-90,
                            xanchor="center", yanchor="middle",
                            font=dict(family=FONT, size=18.5, color="black")))
for c in range(3):
    x0, x1 = COL_X[c]
    annotations.append(dict(x=fx((x0 + x1) / 2), y=fy(964), xref="paper", yref="paper",
                            text="LBT [Gyr]", showarrow=False, xanchor="center", yanchor="middle",
                            font=dict(family=FONT, size=18.5, color="black")))

# title
annotations.append(dict(x=0.5, y=fy(14), xref="paper", yref="paper",
                        text="A. Dolfi et al.: Stellar-HI lopsidedness in Auriga Superstars",
                        showarrow=False, xanchor="center", yanchor="middle",
                        font=dict(family="Liberation Serif", size=17.5, color="black")))

# legend 1 (Stars / HI gas)
shapes.append(dict(type="path", xref="paper", yref="paper", path=rrect(790, 77, 917, 140, 4),
                   fillcolor="rgba(255,255,255,0.85)", line=dict(color="#cccccc", width=1),
                   layer="above"))
for yy, col, lab in ((92, "red", "Stars"), (121, "blue", "HI gas")):
    shapes.append(dict(type="line", xref="paper", yref="paper", x0=fx(797), x1=fx(838),
                       y0=fy(yy), y1=fy(yy), line=dict(color=col, width=1.5), layer="above"))
    shapes.append(dict(type="circle", xref="paper", yref="paper", x0=fx(813), x1=fx(822),
                       y0=fy(yy + 4.5), y1=fy(yy - 4.5), fillcolor=col, line=dict(width=0),
                       layer="above"))
    annotations.append(dict(x=fx(851), y=fy(yy), xref="paper", yref="paper", text=lab,
                            showarrow=False, xanchor="left", yanchor="middle",
                            font=dict(family=FONT, size=19, color="black")))

# legend 2 (Young stars)
shapes.append(dict(type="path", xref="paper", yref="paper", path=rrect(73, 662, 255, 696, 4),
                   fillcolor="rgba(255,255,255,0.85)", line=dict(color="#cccccc", width=1),
                   layer="above"))
shapes.append(dict(type="line", xref="paper", yref="paper", x0=fx(80), x1=fx(120),
                   y0=fy(677), y1=fy(677), line=dict(color="gray", width=1, dash="4px,2px"),
                   layer="above"))
shapes.append(dict(type="circle", xref="paper", yref="paper", x0=fx(96), x1=fx(103),
                   y0=fy(680.5), y1=fy(673.5), fillcolor="gray", line=dict(width=0),
                   layer="above"))
annotations.append(dict(x=fx(134), y=fy(677), xref="paper", yref="paper", text="Young stars",
                        showarrow=False, xanchor="left", yanchor="middle",
                        font=dict(family=FONT, size=19, color="black")))

fig.update_layout(width=W, height=H, margin=dict(l=0, r=0, t=0, b=0),
                  paper_bgcolor="white", plot_bgcolor="white", showlegend=False,
                  shapes=shapes, annotations=annotations, **layout)

fig.write_html("out.html")
